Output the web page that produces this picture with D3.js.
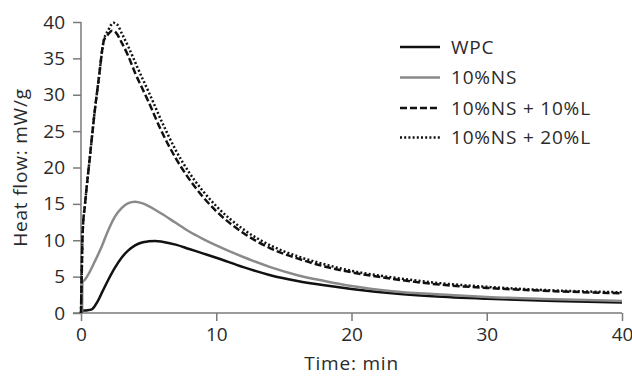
<!DOCTYPE html>
<html><head><meta charset="utf-8">
<script src="https://cdn.jsdelivr.net/npm/d3@7"></script>
<style>body{margin:0;background:#fff}svg{display:block}text{font-family:"Open Sans",sans-serif;fill:#2a2a2a}</style>
</head><body><svg id="c" width="632" height="378"></svg>
<script>
const xTicks = [0, 10, 20, 30, 40];
const yTicks = [0, 5, 10, 15, 20, 25, 30, 35, 40];
const seriesNames = ["WPC", "10%NS", "10%NS + 10%L", "10%NS + 20%L"];
const wpc = [[0,0],[0.05,0.3],[0.4,0.35],[0.8,0.5],[1.2,1.5],[1.6,3.0],[2.0,4.5],[2.5,6.2],[3.0,7.6],[3.5,8.6],[4.0,9.3],[4.5,9.7],[5.0,9.85],[5.5,9.9],[6.0,9.8],[7.0,9.4],[8.0,8.8],[9.0,8.2],[10,7.6],[12,6.3],[14,5.2],[16,4.4],[18,3.8],[20,3.3],[23,2.7],[26,2.3],[30,1.95],[35,1.65],[40,1.45]];
const ns10 = [[0,0],[0.08,0],[0.1,4.2],[0.3,4.6],[0.6,5.5],[1.0,7.0],[1.5,9.0],[2.0,11.3],[2.5,13.2],[3.0,14.4],[3.5,15.1],[4.0,15.3],[4.5,15.1],[5.0,14.7],[6.0,13.6],[7.0,12.4],[8.0,11.2],[9.0,10.2],[10,9.3],[12,7.7],[14,6.3],[16,5.2],[18,4.4],[20,3.7],[23,3.0],[26,2.6],[30,2.2],[35,1.9],[40,1.65]];
const ns10L10 = [[0,0],[0.05,5],[0.12,11],[0.3,15],[0.66,21.5],[1.0,27.5],[1.3,32],[1.7,37.5],[2.0,38.3],[2.3,38.8],[2.6,38.5],[3.0,37.2],[3.5,35.3],[4.0,33.0],[4.5,31.0],[5.0,29.0],[6.0,24.8],[7.0,21.3],[8.0,18.4],[9.0,16.0],[10,14.0],[12,11.0],[14,8.9],[16,7.5],[18,6.4],[20,5.6],[23,4.7],[26,4.0],[30,3.45],[35,3.0],[40,2.7]];
const ns10L20 = [[0,0],[0.05,5],[0.12,11],[0.3,15],[0.66,21.5],[1.0,27.5],[1.3,32],[1.7,37.6],[2.0,38.8],[2.4,39.9],[2.7,39.6],[3.0,38.5],[3.5,36.6],[4.0,34.5],[4.5,32.4],[5.0,30.4],[6.0,26.2],[7.0,22.4],[8.0,19.3],[9.0,16.8],[10,14.7],[12,11.5],[14,9.3],[16,7.8],[18,6.7],[20,5.8],[23,4.9],[26,4.2],[30,3.6],[35,3.1],[40,2.85]];

const svg = d3.select("#c");
const x = d3.scaleLinear().domain([0, 40]).range([81, 622]);
const y = d3.scaleLinear().domain([0, 40]).range([313, 22]);
const axisColor = "#7a7a7a";

const styles = [
  {data: wpc, color: "#111", dash: null},
  {data: ns10, color: "#8a8a8a", dash: null},
  {data: ns10L10, color: "#111", dash: "7,3"},
  {data: ns10L20, color: "#111", dash: "2,2.2"}
];

// axes
const gx = svg.append("g").attr("transform", `translate(0,${y(0)})`)
  .call(d3.axisBottom(x).tickValues(xTicks).tickSize(8).tickPadding(7));
const gy = svg.append("g").attr("transform", `translate(${x(0)},0)`)
  .call(d3.axisLeft(y).tickValues(yTicks).tickSize(8).tickPadding(8));
[gx, gy].forEach(g => {
  g.select(".domain").attr("stroke", axisColor).attr("stroke-width", 1.5);
  g.selectAll(".tick line").attr("stroke", axisColor).attr("stroke-width", 1.5);
  g.selectAll(".tick text").style("font-size", "19px").style("fill", "#2a2a2a").attr("font-family", "Open Sans");
});
gx.select(".domain").attr("d", `M${x(0)-8},0H${x(40)}`);
gy.select(".domain").attr("d", `M0,${y(0)}V${y(40)}`);

const line = d3.line().x(d => x(d[0])).y(d => y(d[1])).curve(d3.curveMonotoneX);
styles.forEach(s => {
  svg.append("path").datum(s.data).attr("d", line)
    .attr("fill", "none").attr("stroke", s.color).attr("stroke-width", 2.5)
    .attr("stroke-dasharray", s.dash).attr("stroke-linejoin", "round");
});

// axis titles
svg.append("text").attr("x", x(20)).attr("y", 370).attr("text-anchor", "middle")
  .style("font-size", "19px").style("letter-spacing", "0.8px").text("Time: min");
svg.append("text").attr("transform", `translate(27,${y(20)}) rotate(-90)`).attr("text-anchor", "middle")
  .style("font-size", "19px").style("letter-spacing", "0.8px").text("Heat flow: mW/g");

// legend
const legY = [47, 77.5, 108, 137.5];
styles.forEach((s, i) => {
  svg.append("line").attr("x1", 400).attr("x2", 440).attr("y1", legY[i]).attr("y2", legY[i])
    .attr("stroke", s.color).attr("stroke-width", 2.5).attr("stroke-dasharray", s.dash);
  svg.append("text").attr("x", 451).attr("y", legY[i]).attr("dy", "0.35em")
    .style("font-size", "19px").style("letter-spacing", "0.8px").text(seriesNames[i]);
});
</script></body></html>
